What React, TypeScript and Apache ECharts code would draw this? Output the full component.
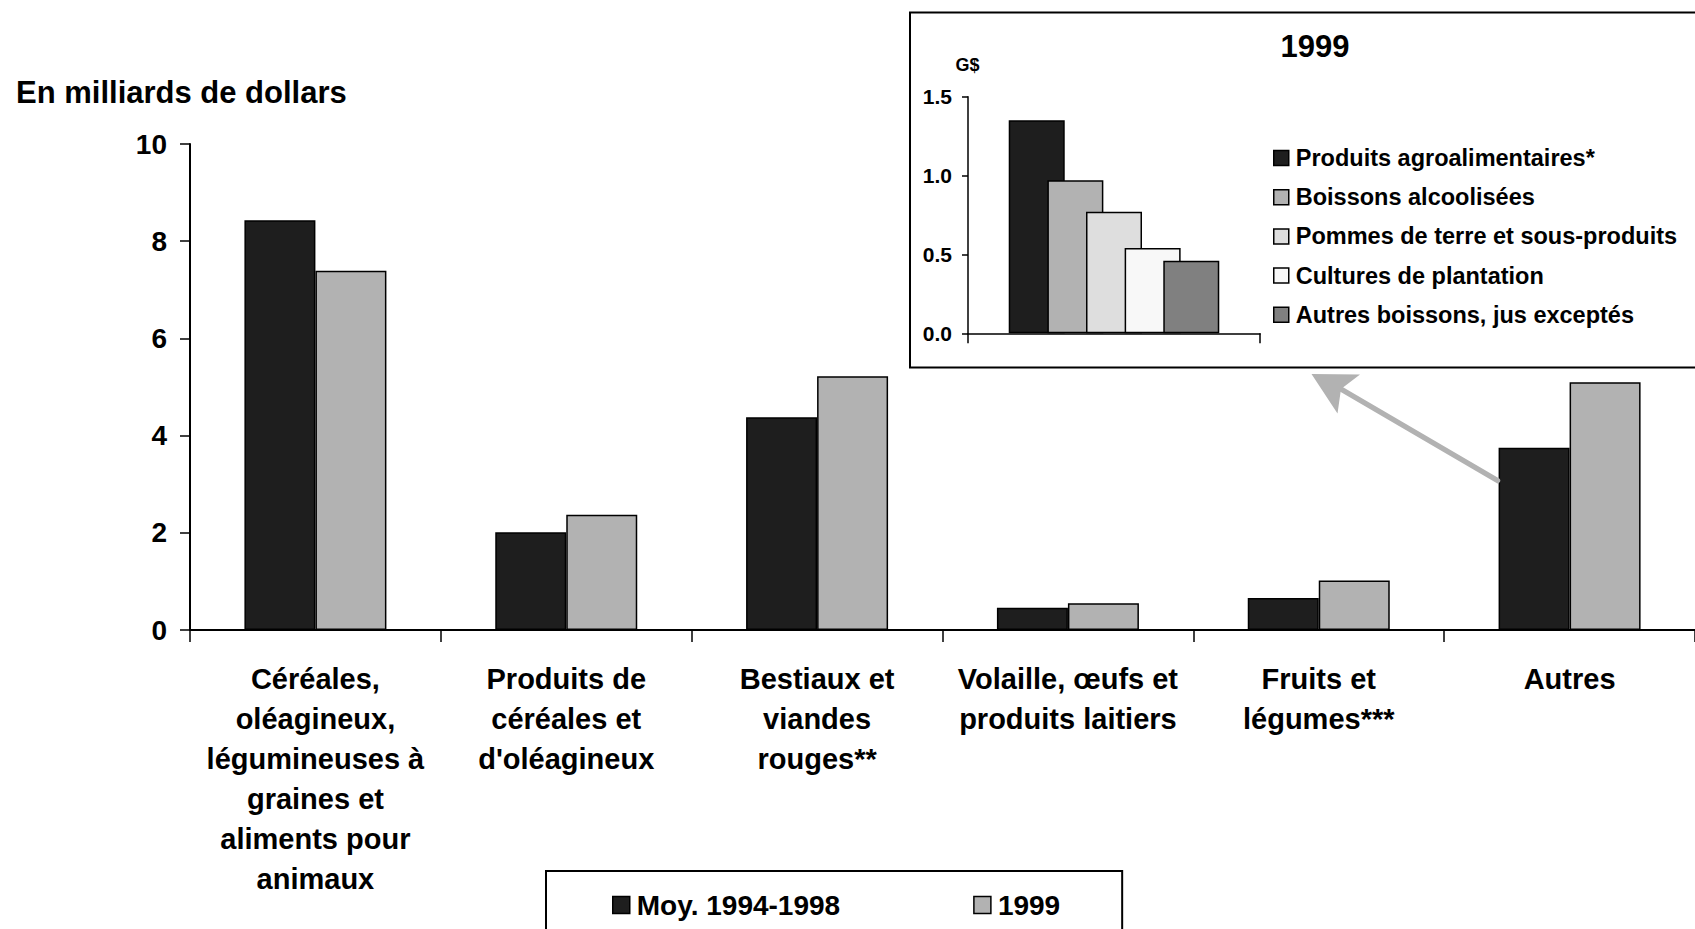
import React, { useEffect, useRef } from "react";
import * as echarts from "echarts";

const categories = [
  "Céréales,\noléagineux,\nlégumineuses à\ngraines et\naliments pour\nanimaux",
  "Produits de\ncéréales et\nd'oléagineux",
  "Bestiaux et\nviandes\nrouges**",
  "Volaille, œufs et\nproduits laitiers",
  "Fruits et\nlégumes***",
  "Autres",
];
const avg9498 = [8.43, 2.01, 4.38, 0.46, 0.66, 3.75];
const y1999 = [7.39, 2.37, 5.22, 0.55, 1.02, 5.1];
const mainSeriesNames = ["Moy. 1994-1998", "1999"];
const mainColors = ["#1e1e1e", "#b2b2b2"];

const insetCategory = ["1999"];
const insetNames = [
  "Produits agroalimentaires*",
  "Boissons alcoolisées",
  "Pommes de terre et sous-produits",
  "Cultures de plantation",
  "Autres boissons, jus exceptés",
];
const insetValues = [1.35, 0.97, 0.77, 0.54, 0.46];
const insetColors = ["#1e1e1e", "#b2b2b2", "#dedede", "#f8f8f8", "#808080"];

const FONT = "'Liberation Sans', Arial, Helvetica, sans-serif";

export default function App() {
  const ref = useRef<HTMLDivElement>(null);
  useEffect(() => {
    if (!ref.current) return;
    const chart = echarts.init(ref.current, null, { renderer: "svg" });
    const axisLine = { lineStyle: { color: "#000", width: 2 } };
    const option: any = {
      animation: false,
      backgroundColor: "#fff",
      textStyle: { fontFamily: FONT, fontWeight: "bold", color: "#000" },
      title: {
        text: "En milliards de dollars",
        left: 16,
        top: 77,
        padding: 0,
        textStyle: { fontFamily: FONT, fontWeight: "bold", fontSize: 31, color: "#000" },
      },
      grid: [
        { left: 190, top: 144, width: 1509, height: 486 },
        { left: 968, top: 96.7, width: 292, height: 236.6 },
      ],
      xAxis: [
        {
          type: "category",
          gridIndex: 0,
          data: categories,
          axisLine,
          axisTick: { show: true, length: 12, lineStyle: { color: "#000", width: 1.5 } },
          axisLabel: {
            interval: 0,
            margin: 29,
            fontSize: 29,
            lineHeight: 40,
            fontWeight: "bold",
            fontFamily: FONT,
            color: "#000",
            align: "center",
            verticalAlign: "top",
            hideOverlap: false,
          },
        },
        {
          type: "category",
          gridIndex: 1,
          data: insetCategory,
          z: 3,
          axisLine: { lineStyle: { color: "#000", width: 1.5 } },
          axisTick: { show: true, length: 10, lineStyle: { color: "#000", width: 1.5 } },
          axisLabel: { show: false },
        },
      ],
      yAxis: [
        {
          type: "value",
          gridIndex: 0,
          min: 0,
          max: 10,
          interval: 2,
          axisLine: { show: true, ...axisLine },
          axisTick: { show: true, length: 10, lineStyle: { color: "#000", width: 1.5 } },
          splitLine: { show: false },
          axisLabel: {
            margin: 23,
            fontSize: 28,
            fontWeight: "bold",
            fontFamily: FONT,
            color: "#000",
          },
        },
        {
          type: "value",
          gridIndex: 1,
          min: 0,
          max: 1.5,
          interval: 0.5,
          z: 3,
          axisLine: { show: true, lineStyle: { color: "#000", width: 1.5 } },
          axisTick: { show: true, length: 6, lineStyle: { color: "#000", width: 1.5 } },
          splitLine: { show: false },
          axisLabel: {
            margin: 16,
            fontSize: 21,
            fontWeight: "bold",
            fontFamily: FONT,
            color: "#000",
            formatter: (v: number) => v.toFixed(1),
          },
        },
      ],
      legend: [
        {
          data: mainSeriesNames,
          left: 546,
          top: 871,
          orient: "horizontal",
          itemWidth: 17,
          itemHeight: 17,
          itemGap: 133,
          padding: [20, 62, 40, 66],
          borderColor: "#000",
          borderWidth: 2,
          backgroundColor: "#fff",
          icon: "rect",
          itemStyle: { borderColor: "#000", borderWidth: 1.5 },
          textStyle: {
            fontSize: 28,
            fontWeight: "bold",
            fontFamily: FONT,
            color: "#000",
            padding: [0, 0, 0, 2],
          },
        },
        {
          data: insetNames,
          left: 1273,
          top: 146,
          orient: "vertical",
          itemWidth: 15,
          itemHeight: 15,
          itemGap: 15.2,
          padding: 0,
          icon: "rect",
          itemStyle: { borderColor: "#000", borderWidth: 1.5 },
          textStyle: {
            fontSize: 23.5,
            fontWeight: "bold",
            fontFamily: FONT,
            color: "#000",
            padding: [0, 0, 0, 2],
          },
        },
      ],
      graphic: [
        {
          type: "rect",
          z: 0,
          shape: { x: 910, y: 12.5, width: 820, height: 355 },
          style: { fill: "#fff", stroke: "#000", lineWidth: 2 },
          silent: true,
        },
        {
          type: "text",
          z: 5,
          x: 1315,
          y: 46.5,
          style: {
            text: "1999",
            fontSize: 31,
            fontWeight: "bold",
            fontFamily: FONT,
            fill: "#000",
            align: "center",
            verticalAlign: "middle",
          },
        },
        {
          type: "text",
          z: 5,
          x: 967.5,
          y: 64.5,
          style: {
            text: "G$",
            fontSize: 18,
            fontWeight: "bold",
            fontFamily: FONT,
            fill: "#000",
            align: "center",
            verticalAlign: "middle",
          },
        },
        {
          type: "line",
          z: 5,
          shape: { x1: 1340, y1: 388.5, x2: 1497.5, y2: 480.5 },
          style: { stroke: "#b2b2b2", lineWidth: 5.5, lineCap: "round" },
        },
        {
          type: "polygon",
          z: 5,
          shape: {
            points: [
              [1311.5, 374],
              [1360, 374.5],
              [1341, 389],
              [1337.5, 413.5],
            ],
          },
          style: { fill: "#b2b2b2" },
        },
      ],
      series: [
        ...[avg9498, y1999].map((d, i) => ({
          type: "bar",
          name: mainSeriesNames[i],
          xAxisIndex: 0,
          yAxisIndex: 0,
          data: d,
          barWidth: 71,
          barGap: "0%",
          itemStyle: { color: mainColors[i], borderColor: "#000", borderWidth: 1.5 },
        })),
        ...insetValues.map((v, i) => ({
          type: "bar",
          name: insetNames[i],
          xAxisIndex: 1,
          yAxisIndex: 1,
          data: [v],
          barWidth: 56,
          barGap: "-31%",
          z: 2,
          itemStyle: { color: insetColors[i], borderColor: "#000", borderWidth: 1.5 },
        })),
      ],
    };
    chart.setOption(option);
    return () => chart.dispose();
  }, []);
  return (
    <div
      ref={ref}
      style={{ position: "fixed", left: 0, top: 0, width: 1695, height: 929, background: "#fff" }}
    />
  );
}
